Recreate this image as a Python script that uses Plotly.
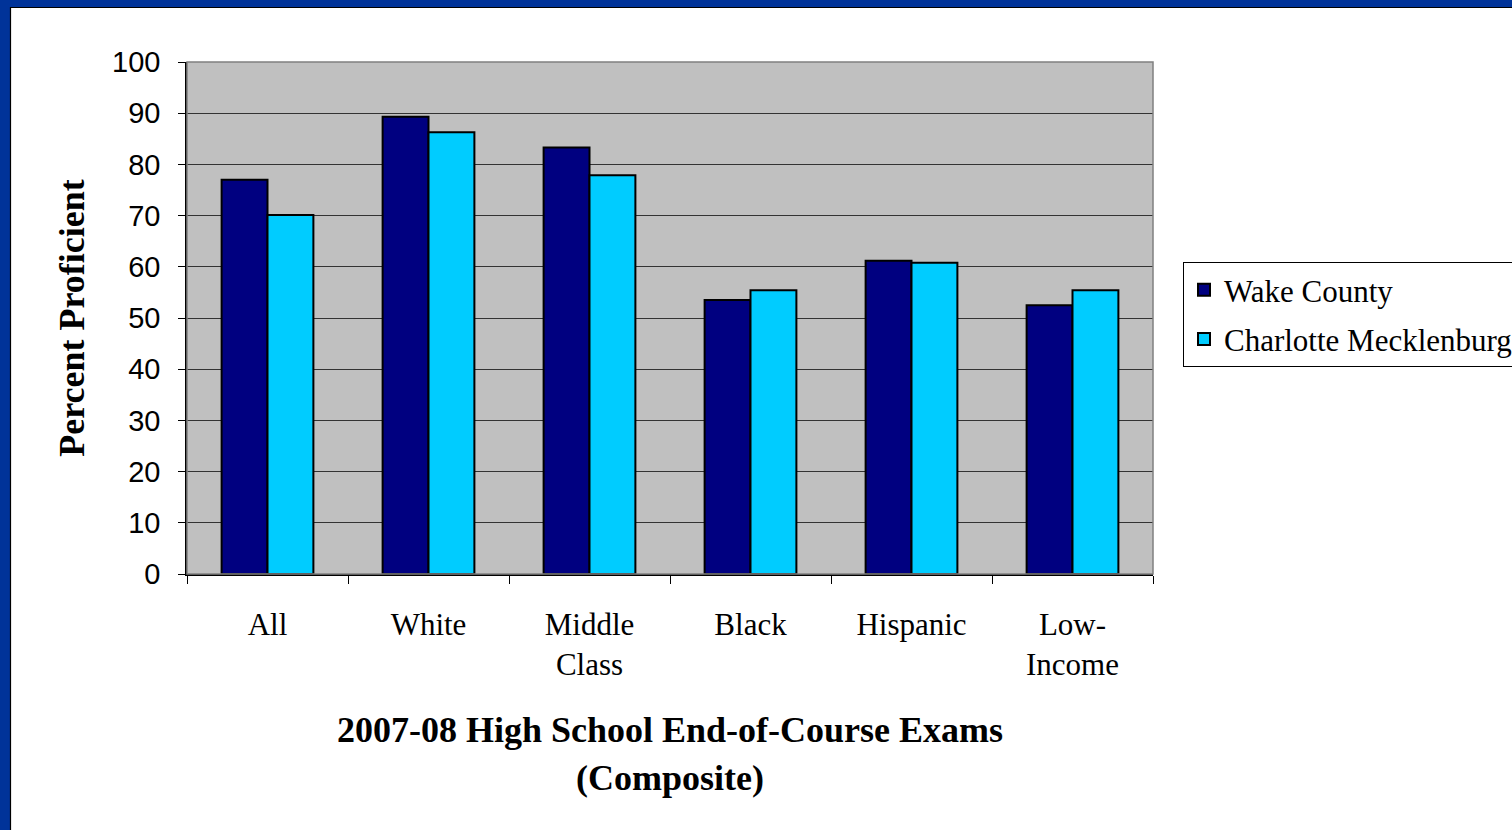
import plotly.graph_objects as go

categories = ["All", "White", "Middle<br>Class", "Black", "Hispanic", "Low-<br>Income"]
wake_county = [77, 89.3, 83.3, 53.5, 61.2, 52.5]
charlotte_meck = [70.1, 86.3, 77.9, 55.4, 60.8, 55.4]
series_names = ["Wake County", "Charlotte Mecklenburg"]
y_ticks = [0, 10, 20, 30, 40, 50, 60, 70, 80, 90, 100]

W, H = 1512, 830
L, R, T, B = 187, 1153, 62, 574  # plot area in pixels
PW, PH = R - L, B - T


def px(x):
    return (x - L) / PW


def py(y):
    return (B - y) / PH


fig = go.Figure()
fig.add_trace(go.Bar(
    x=categories, y=wake_county, name=series_names[0], legendgroup="a",
    marker=dict(color="#000080", line=dict(color="black", width=2)),
))
fig.add_trace(go.Bar(
    x=categories, y=charlotte_meck, name=series_names[1], legendgroup="b",
    marker=dict(color="#00CCFF", line=dict(color="black", width=2)),
))

blue = "#003399"
shapes = [
    # plot area border
    dict(type="rect", xref="paper", yref="paper", x0=0, x1=1, y0=0, y1=1,
         line=dict(color="#808080", width=1.5), layer="above"),
    # left & top blue frame
    dict(type="rect", xref="paper", yref="paper", x0=px(0), x1=px(10), y0=py(-5), y1=py(W),
         fillcolor=blue, line=dict(width=0), layer="above"),
    dict(type="rect", xref="paper", yref="paper", x0=px(-5), x1=px(W + 10), y0=py(7), y1=py(-5),
         fillcolor=blue, line=dict(width=0), layer="above"),
    dict(type="line", xref="paper", yref="paper", x0=px(10.5), x1=px(10.5), y0=py(7), y1=py(H + 10),
         line=dict(color="black", width=1.2), layer="above"),
    dict(type="line", xref="paper", yref="paper", x0=px(10), x1=px(W + 10), y0=py(7.5), y1=py(7.5),
         line=dict(color="black", width=1.2), layer="above"),
]

annotations = [
    dict(text="<b>2007-08 High School End-of-Course Exams</b>", xref="paper", yref="paper",
         x=0.5, y=py(730), xanchor="center", yanchor="middle", showarrow=False,
         font=dict(family="Liberation Serif", size=36, color="black")),
    dict(text="<b>(Composite)</b>", xref="paper", yref="paper",
         x=0.5, y=py(778), xanchor="center", yanchor="middle", showarrow=False,
         font=dict(family="Liberation Serif", size=36, color="black")),
]

fig.update_layout(
    width=W, height=H,
    margin=dict(l=L, r=W - R, t=T, b=H - B, pad=0, autoexpand=False),
    paper_bgcolor="white",
    plot_bgcolor="#C0C0C0",
    barmode="group",
    bargap=0.43,
    bargroupgap=0,
    showlegend=True,
    legend=dict(
        x=px(1183), y=py(262), xanchor="left", yanchor="top",
        bgcolor="white", bordercolor="black", borderwidth=1,
        font=dict(family="Liberation Serif", size=31, color="black"),
        tracegroupgap=6,
    ),
    shapes=shapes,
    annotations=annotations,
)

fig.update_xaxes(
    showline=True, linecolor="black", linewidth=1.5,
    ticks="outside", tickson="boundaries", ticklen=8, tickcolor="black", tickwidth=1,
    tickfont=dict(family="Liberation Serif", size=31, color="black"),
    ticklabelstandoff=22,
    showgrid=False,
)
fig.update_yaxes(
    range=[0, 100], tickvals=y_ticks,
    showline=True, linecolor="black", linewidth=1.5,
    ticks="outside", ticklen=7, tickcolor="black", tickwidth=1,
    tickfont=dict(family="Liberation Sans", size=29, color="black"),
    ticklabelstandoff=12,
    showgrid=True, gridcolor="#333333", gridwidth=1,
    zeroline=False,
    title=dict(text="<b>Percent Proficient</b>", standoff=16,
               font=dict(family="Liberation Serif", size=36, color="black")),
)

fig.write_html("out.html")
